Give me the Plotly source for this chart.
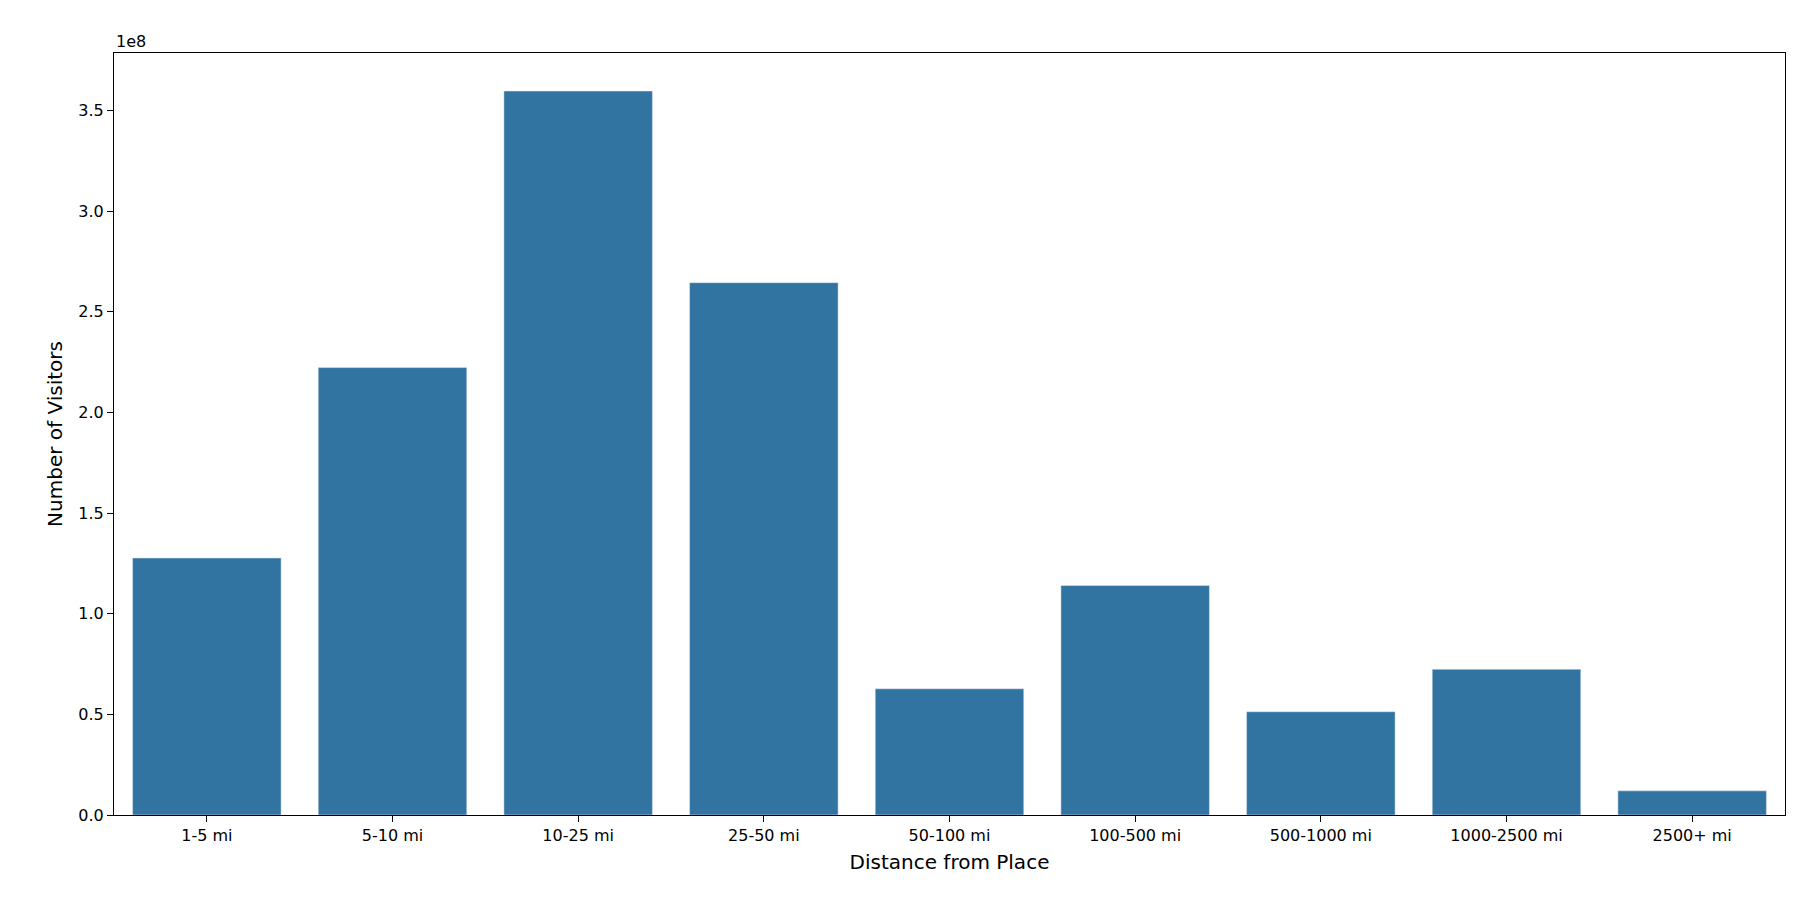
import plotly.graph_objects as go

categories = ["1-5 mi", "5-10 mi", "10-25 mi", "25-50 mi", "50-100 mi", "100-500 mi",
              "500-1000 mi", "1000-2500 mi", "2500+ mi"]
visitors = [1.277e8, 2.223e8, 3.597e8, 2.645e8, 0.627e8, 1.140e8, 0.513e8, 0.724e8, 0.120e8]
tick_vals = [0, 0.5e8, 1.0e8, 1.5e8, 2.0e8, 2.5e8, 3.0e8, 3.5e8]
tick_text = ["0.0", "0.5", "1.0", "1.5", "2.0", "2.5", "3.0", "3.5"]

fig = go.Figure(go.Bar(x=categories, y=visitors, marker_color="#3274a1", width=0.8))
font = dict(family="DejaVu Sans", color="black")
fig.update_layout(
    width=1800, height=900, plot_bgcolor="white", paper_bgcolor="white",
    margin=dict(l=106, r=23, t=45, b=93), font=dict(size=16, **font), showlegend=False,
    xaxis=dict(title=dict(text="Distance from Place", font=dict(size=20, **font), standoff=10),
               range=[-0.5, 8.5], showline=True, linecolor="black", mirror=True,
               ticks="outside", ticklen=6, tickcolor="black", showgrid=False),
    yaxis=dict(title=dict(text="Number of Visitors", font=dict(size=20, **font), standoff=10),
               range=[0, 3.786e8], tickvals=tick_vals, ticktext=tick_text,
               showline=True, linecolor="black", mirror=True, ticks="outside",
               ticklen=6, tickcolor="black", showgrid=False, zeroline=False),
    annotations=[dict(text="1e8", xref="paper", yref="paper", x=0, y=1, xanchor="left",
                      yanchor="bottom", showarrow=False, font=dict(size=16, **font))],
)
fig.write_html("out.html")
